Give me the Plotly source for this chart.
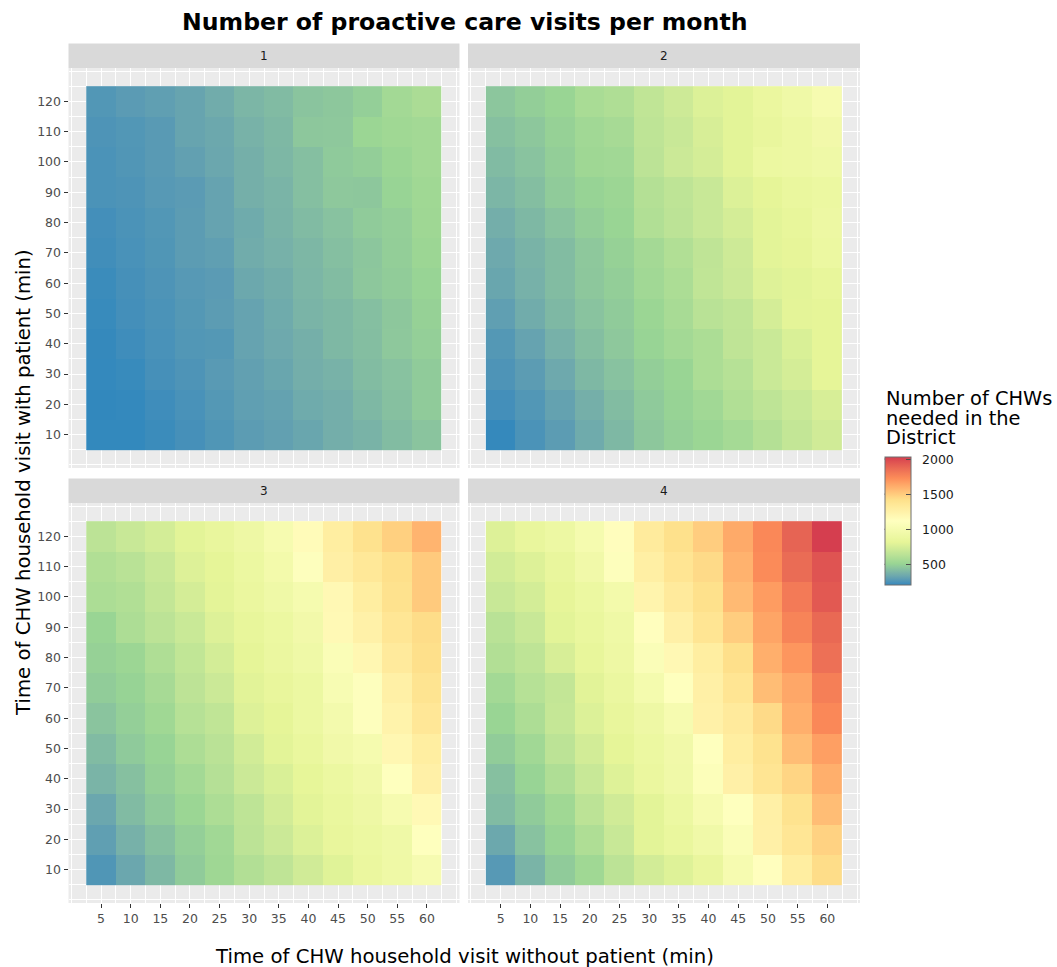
import plotly.graph_objects as go

# ---------------- data ----------------
x_minutes = [5, 10, 15, 20, 25, 30, 35, 40, 45, 50, 55, 60]
# rows listed from top (y = 120) down to bottom (y = 10)
y_minutes_top_down = [120, 110, 100, 90, 80, 70, 60, 50, 40, 30, 20, 10]
facet_labels = ["1", "2", "3", "4"]

chw_facet1 = [
    [265, 285, 300, 320, 350, 390, 410, 445, 455, 485, 545, 575],
    [255, 265, 280, 320, 335, 375, 400, 455, 460, 515, 535, 545],
    [250, 262, 280, 305, 330, 365, 395, 425, 465, 480, 515, 545],
    [250, 255, 275, 285, 315, 365, 385, 425, 460, 455, 505, 535],
    [235, 250, 265, 290, 315, 345, 380, 410, 435, 470, 485, 530],
    [230, 245, 260, 290, 300, 350, 370, 395, 425, 450, 480, 520],
    [220, 240, 255, 275, 285, 335, 355, 390, 415, 455, 475, 505],
    [215, 235, 250, 270, 290, 315, 345, 385, 400, 425, 455, 495],
    [210, 225, 245, 265, 270, 315, 340, 365, 400, 420, 460, 485],
    [208, 215, 240, 255, 280, 305, 325, 360, 375, 415, 435, 470],
    [205, 208, 225, 245, 270, 300, 310, 345, 360, 400, 430, 470],
    [207, 207, 220, 240, 260, 290, 305, 325, 360, 380, 415, 445],
]
chw_facet2 = [
    [450, 480, 510, 570, 590, 660, 710, 770, 800, 870, 930, 1000],
    [430, 455, 495, 540, 560, 650, 690, 750, 800, 850, 900, 950],
    [410, 440, 480, 530, 540, 640, 700, 740, 800, 880, 900, 930],
    [390, 420, 470, 500, 520, 610, 650, 690, 770, 810, 860, 880],
    [360, 400, 440, 480, 510, 600, 640, 690, 740, 800, 840, 900],
    [340, 380, 415, 460, 495, 550, 600, 655, 710, 800, 820, 880],
    [325, 370, 415, 455, 480, 540, 580, 660, 700, 780, 800, 840],
    [300, 350, 400, 440, 470, 515, 565, 630, 660, 740, 805, 810],
    [270, 315, 370, 420, 460, 505, 545, 580, 655, 695, 760, 810],
    [255, 290, 340, 400, 435, 480, 510, 580, 620, 695, 740, 810],
    [235, 265, 310, 365, 415, 465, 500, 540, 600, 650, 695, 750],
    [210, 250, 290, 345, 400, 455, 490, 515, 555, 610, 670, 720],
]
chw_facet3 = [
    [640, 690, 735, 800, 850, 910, 1000, 1150, 1290, 1400, 1480, 1580],
    [600, 630, 690, 775, 815, 880, 960, 1100, 1265, 1340, 1420, 1500],
    [580, 600, 670, 740, 805, 870, 930, 990, 1180, 1290, 1400, 1500],
    [510, 585, 640, 695, 775, 840, 880, 950, 1170, 1250, 1360, 1430],
    [495, 520, 590, 665, 735, 810, 875, 930, 1050, 1190, 1320, 1420],
    [475, 500, 560, 645, 700, 795, 845, 890, 1020, 1100, 1260, 1380],
    [445, 485, 535, 620, 660, 775, 810, 885, 970, 1100, 1230, 1350],
    [410, 465, 505, 585, 635, 725, 800, 860, 940, 990, 1190, 1290],
    [385, 430, 490, 545, 615, 700, 760, 825, 880, 945, 1110, 1255],
    [330, 410, 465, 515, 585, 650, 730, 800, 860, 910, 1000, 1170],
    [300, 370, 430, 485, 540, 640, 700, 770, 845, 880, 930, 1110],
    [260, 330, 400, 470, 530, 605, 655, 720, 790, 865, 920, 1010],
]
chw_facet4 = [
    [775, 850, 900, 990, 1130, 1310, 1410, 1490, 1620, 1740, 1890, 2025],
    [725, 775, 850, 940, 1090, 1270, 1370, 1440, 1590, 1730, 1860, 1950],
    [690, 735, 820, 880, 960, 1220, 1320, 1410, 1560, 1670, 1800, 1930],
    [630, 690, 800, 860, 920, 1120, 1255, 1370, 1490, 1640, 1760, 1870],
    [605, 650, 750, 835, 905, 1060, 1180, 1290, 1420, 1600, 1690, 1840],
    [545, 620, 670, 795, 875, 980, 1110, 1260, 1370, 1550, 1630, 1780],
    [510, 585, 680, 770, 845, 915, 1000, 1250, 1320, 1440, 1600, 1740],
    [475, 540, 640, 730, 815, 880, 940, 1110, 1290, 1390, 1550, 1660],
    [430, 505, 590, 690, 780, 865, 935, 1080, 1255, 1370, 1460, 1600],
    [410, 470, 535, 640, 720, 800, 890, 1000, 1110, 1260, 1390, 1550],
    [335, 435, 505, 590, 690, 800, 860, 935, 1050, 1255, 1360, 1470],
    [275, 385, 470, 535, 640, 730, 780, 855, 1000, 1120, 1290, 1430],
]
colorbar_ticks = [500, 1000, 1500, 2000]
legend_title_lines = ["Number of CHWs", "needed in the", "District"]

# ---------------- colour scale (Spectral, interpolated in Lab) ----------------
palette = ["#3288BD", "#99D594", "#E6F598", "#FFFFBF", "#FEE08B", "#FC8D59", "#D53E4F"]


def hex_to_rgb(h):
    h = h.lstrip("#")
    return [int(h[i:i + 2], 16) for i in (0, 2, 4)]


def rgb_to_lab(rgb):
    def lin(c):
        c = c / 255.0
        return c / 12.92 if c <= 0.04045 else ((c + 0.055) / 1.055) ** 2.4
    r, g, b = (lin(c) for c in rgb)
    X = (0.4124 * r + 0.3576 * g + 0.1805 * b) / 0.95047
    Y = (0.2126 * r + 0.7152 * g + 0.0722 * b)
    Z = (0.0193 * r + 0.1192 * g + 0.9505 * b) / 1.08883

    def f(t):
        return t ** (1 / 3) if t > 0.008856 else 7.787 * t + 16 / 116
    fx, fy, fz = f(X), f(Y), f(Z)
    return [116 * fy - 16, 500 * (fx - fy), 200 * (fy - fz)]


def lab_to_rgb(lab):
    L, a, b = lab
    fy = (L + 16) / 116
    fx = fy + a / 500
    fz = fy - b / 200

    def finv(t):
        return t ** 3 if t ** 3 > 0.008856 else (t - 16 / 116) / 7.787
    X, Y, Z = finv(fx) * 0.95047, finv(fy), finv(fz) * 1.08883
    r = 3.2406 * X - 1.5372 * Y - 0.4986 * Z
    g = -0.9689 * X + 1.8758 * Y + 0.0415 * Z
    bb = 0.0557 * X - 0.2040 * Y + 1.0570 * Z

    def gam(c):
        c = max(0.0, min(1.0, c))
        return 12.92 * c if c <= 0.0031308 else 1.055 * c ** (1 / 2.4) - 0.055
    return [int(round(255 * gam(c))) for c in (r, g, bb)]


labs = [rgb_to_lab(hex_to_rgb(h)) for h in palette]
n_seg = len(palette) - 1
colorscale = []
steps = 96
for k in range(steps + 1):
    t = k / steps
    pos = t * n_seg
    i = min(int(pos), n_seg - 1)
    u = pos - i
    lab = [labs[i][j] * (1 - u) + labs[i + 1][j] * u for j in range(3)]
    rgb = lab_to_rgb(lab)
    colorscale.append([t, "rgb(%d,%d,%d)" % tuple(rgb)])

# ---------------- layout geometry (pixels) ----------------
W, H = 1057, 967


def px(x):
    return x / W


def py(y):
    return 1 - y / H


col_px = [(68.5, 459.5), (468.0, 860.0)]
row_px = [(68.0, 468.0), (503.0, 903.0)]
strip_h = 24.5

facets = [chw_facet1, chw_facet2, chw_facet3, chw_facet4]
y_asc = y_minutes_top_down[::-1]
all_vals = [v for f in facets for row in f for v in row]
cmin, cmax = min(all_vals), max(all_vals)

fig = go.Figure()
shapes = []
annotations = []
layout_axes = {}

x_minor = [0] + [v - 2.5 for v in x_minutes] + [x_minutes[-1] + 2.5, x_minutes[-1] + 5]
y_minor = [0] + [v - 5 for v in y_asc] + [y_asc[-1] + 5, y_asc[-1] + 10]

for i, (zrows, label) in enumerate(zip(facets, facet_labels)):
    r, c = divmod(i, 2)
    n = i + 1
    sfx = "" if n == 1 else str(n)
    fig.add_trace(go.Heatmap(
        x=x_minutes, y=y_asc, z=zrows[::-1], coloraxis="coloraxis",
        xaxis="x" + sfx, yaxis="y" + sfx, zsmooth=False,
        hovertemplate="x=%{x}<br>y=%{y}<br>CHWs=%{z}<extra></extra>",
    ))
    x0, x1 = col_px[c]
    y0, y1 = row_px[r]
    common = dict(
        showgrid=True, gridcolor="white", gridwidth=1.1, zeroline=False,
        showline=False, tickfont=dict(size=12.5, color="#4D4D4D"),
        tickcolor="#333333", tickwidth=1.1, ticklen=4,
    )
    layout_axes["xaxis" + sfx] = dict(
        common, domain=[px(x0), px(x1)], range=[-0.5, 65.5], anchor="y" + sfx,
        tickmode="array", tickvals=x_minutes,
        showticklabels=(r == 1), ticks="outside" if r == 1 else "",
        minor=dict(tickmode="array", tickvals=x_minor, showgrid=True,
                   gridcolor="white", gridwidth=0.55),
    )
    layout_axes["yaxis" + sfx] = dict(
        common, domain=[py(y1), py(y0)], range=[-1, 131], anchor="x" + sfx,
        tickmode="array", tickvals=y_asc,
        showticklabels=(c == 0), ticks="outside" if c == 0 else "",
        minor=dict(tickmode="array", tickvals=y_minor, showgrid=True,
                   gridcolor="white", gridwidth=0.55),
    )
    # facet strip
    shapes.append(dict(type="rect", xref="paper", yref="paper",
                       x0=px(x0), x1=px(x1), y0=py(y0), y1=py(y0 - strip_h),
                       fillcolor="#D9D9D9", line=dict(width=0), layer="below"))
    annotations.append(dict(text=label, xref="paper", yref="paper",
                            x=px((x0 + x1) / 2), y=py(y0 - strip_h / 2),
                            showarrow=False, font=dict(size=12, color="#1A1A1A"),
                            xanchor="center", yanchor="middle"))

# colour bar geometry: left-side ticks and labels
cb_left, cb_top, cb_len, cb_thick = 884.5, 457.3, 127.7, 26
for v in colorbar_ticks:
    yy = cb_top + cb_len - (v - cmin) / (cmax - cmin) * cb_len
    shapes.append(dict(type="line", xref="paper", yref="paper",
                       x0=px(cb_left), x1=px(cb_left + 5), y0=py(yy), y1=py(yy),
                       line=dict(color="#4D4D4D", width=1)))
    annotations.append(dict(text=str(v), xref="paper", yref="paper",
                            x=px(920), y=py(yy), showarrow=False,
                            font=dict(size=12.5, color="#1A1A1A"),
                            xanchor="left", yanchor="middle"))

# titles
annotations.append(dict(text="<b>Number of proactive care visits per month</b>",
                        xref="paper", yref="paper", x=px(464), y=py(22),
                        showarrow=False, font=dict(size=23.6, color="black"),
                        xanchor="center", yanchor="middle"))
annotations.append(dict(text="Time of CHW household visit without patient (min)",
                        xref="paper", yref="paper", x=px(464), y=py(956),
                        showarrow=False, font=dict(size=19.7, color="black"),
                        xanchor="center", yanchor="middle"))
annotations.append(dict(text="Time of CHW household visit with patient (min)",
                        xref="paper", yref="paper", x=px(23), y=py(483),
                        showarrow=False, textangle=-90,
                        font=dict(size=19.7, color="black"),
                        xanchor="center", yanchor="middle"))
for k, line in enumerate(legend_title_lines):
    annotations.append(dict(text=line, xref="paper", yref="paper",
                            x=px(884), y=py(398 + 20 * k), showarrow=False,
                            font=dict(size=19.4, color="black"),
                            height=19, valign="middle",
                            xanchor="left", yanchor="middle"))

fig.update_layout(
    width=W, height=H,
    margin=dict(l=0, r=0, t=0, b=0),
    paper_bgcolor="white", plot_bgcolor="#EBEBEB",
    font=dict(family="DejaVu Sans", color="black"),
    coloraxis=dict(
        colorscale=colorscale, cmin=cmin, cmax=cmax,
        colorbar=dict(
            x=px(cb_left), xanchor="left", y=py(cb_top), yanchor="top",
            lenmode="pixels", len=cb_len, thickness=cb_thick,
            xpad=0, ypad=0, outlinewidth=1, outlinecolor="#6E6E6E",
            tickmode="array", tickvals=colorbar_ticks, showticklabels=False,
            ticks="inside", ticklen=5, tickcolor="#4D4D4D",
        ),
    ),
    shapes=shapes, annotations=annotations,
    **layout_axes,
)

fig.write_html("out.html", config={"displayModeBar": False},
               post_script="document.body.style.margin='0';")
